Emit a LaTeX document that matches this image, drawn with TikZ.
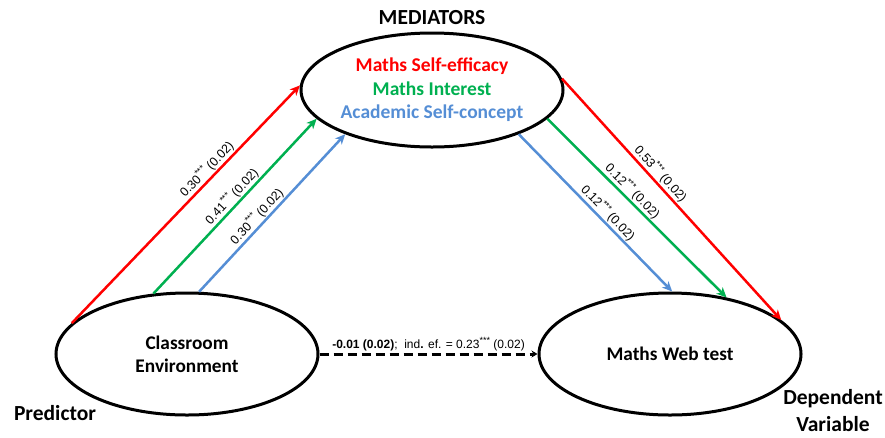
\documentclass[tikz,border=0pt]{standalone}
\usepackage{fontspec}
\setmainfont{Carlito}
\newfontfamily\arial{Liberation Sans}
\usetikzlibrary{arrows.meta,shapes.geometric}
\definecolor{cred}{HTML}{FF0000}
\definecolor{cgreen}{HTML}{00B050}
\definecolor{cblue}{HTML}{558ED5}
\newcommand\mystars{\raisebox{0.42em}{\fontsize{9}{9}\selectfont ***}}
\begin{document}
\begin{tikzpicture}[x=1pt,y=-1pt,
  var/.style={ellipse, draw, line width=3pt, minimum width=262pt, minimum height=122pt,
    inner sep=0pt, align=center, font=\fontsize{19.3}{23}\selectfont\bfseries},
  pathar/.style={line width=2.5pt, -{Stealth[length=10pt,width=9pt,inset=3pt]}},
  lab/.style={font=\arial\fontsize{12.5}{14}\selectfont, sloped, above, inner sep=1pt, text=black},
  side/.style={font=\fontsize{21.5}{27}\selectfont\bfseries, align=center, inner sep=0pt}
]
\useasboundingbox (0,0) rectangle (885,437);
\node[var] (ce) at (187,354) {Classroom\\Environment};
\node[var] (mwt) at (670,354) {Maths Web test};
\node[var, minimum height=114pt, font=\fontsize{19.5}{23.5}\selectfont\bfseries] (med) at (432,90)
  {\textcolor{cred}{Maths Self-efficacy}\\\textcolor{cgreen}{Maths Interest}\\\textcolor{cblue}{Academic Self-concept}};
\node[side, font=\fontsize{21.5}{27}\selectfont\bfseries] (medt) at (432,18) {MEDIATORS};
\node[side] (pred) at (55,413) {Predictor};
\node[side] (dep) at (833,411) {Dependent\\Variable};

\draw[pathar, cred] (ce.165) -- (med.178) node[lab, pos=0.62] {0.30\mystars\ (0.02)};
\draw[pathar, cgreen] (ce.119) -- (med.194) node[lab, pos=0.52] {0.41\mystars\ (0.02)};
\draw[pathar, cblue] (ce.79) -- (med.207) node[lab, pos=0.44] {0.30\mystars\ (0.02)};

\draw[pathar, cred] (med.5) -- (mwt.17) node[lab, pos=0.42] {0.53\mystars\ (0.02)};
\draw[pathar, cgreen] (med.-14) -- (mwt.45) node[lab, pos=0.44] {0.12\mystars\ (0.02)};
\draw[pathar, cblue] (med.-27) -- (mwt.88) node[lab, pos=0.54] {0.12\mystars\ (0.02)};

\draw[line width=3pt, dash pattern=on 9pt off 5pt, -{Stealth[length=6pt,width=7pt,inset=2pt]}]
  (ce.east) -- (mwt.west)
  node[midway, above, inner sep=1.5pt, font=\arial\fontsize{12}{14}\selectfont]
  {\textbf{-0.01 (0.02)};\ \ ind\textbf{.} ef. = 0.23\mystars\ (0.02)};
\end{tikzpicture}
\end{document}
